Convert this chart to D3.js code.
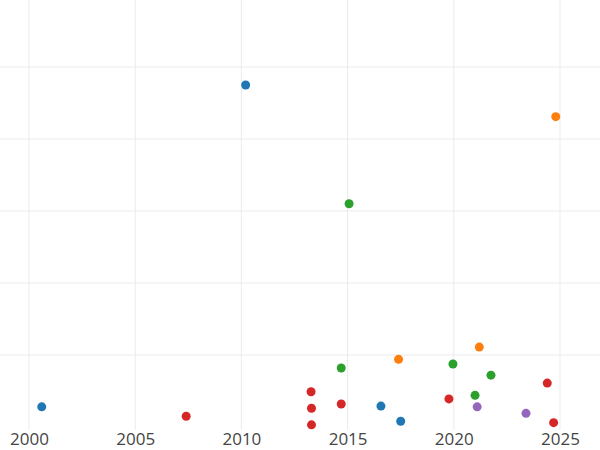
<!DOCTYPE html><html><head><script src="https://cdn.jsdelivr.net/npm/d3@7"></script>
<style>body{margin:0}</style></head><body><svg width="600" height="450"></svg><script>
const series=["a","b","c","d","e"];
const colors=["#1f77b4","#ff7f0e","#2ca02c","#d62728","#9467bd"];
const xs=[2000.6,2010.2,2016.57,2017.5, 2024.8,2017.4,2021.2, 2015.07,2014.7,2019.96,2021.75,2021.0, 2007.4,2013.28,2013.3,2013.3,2014.7,2019.77,2024.4,2024.7, 2021.1,2023.4];
const ys=[0.28,4.75,0.29,0.08, 4.31,0.94,1.11, 3.10,0.82,0.875,0.72,0.44, 0.15,0.49,0.26,0.03,0.32,0.39,0.61,0.06, 0.28,0.19];
const grp=["a","a","a","a","b","b","b","c","c","c","c","c","d","d","d","d","d","d","d","d","e","e"];
const xTicks=[2000,2005,2010,2015,2020,2025];
const yTicks=[1,2,3,4,5];
const svg=d3.select("svg");
const x=d3.scaleLinear().domain([2000,2025]).range([29,560]);
const y=d3.scaleLinear().domain([0,5]).range([427,67]);
const c=d3.scaleOrdinal().domain(series).range(colors);
svg.append("g").selectAll("line").data(xTicks).join("line").attr("x1",d=>x(d)).attr("x2",d=>x(d)).attr("y1",0).attr("y2",430).attr("stroke","#ebebeb");
svg.append("g").selectAll("line").data(yTicks).join("line").attr("x1",0).attr("x2",600).attr("y1",d=>y(d)).attr("y2",d=>y(d)).attr("stroke","#ebebeb");
const ax=svg.append("g").attr("transform","translate(0,430)").call(d3.axisBottom(x).tickValues(xTicks).tickFormat(d3.format("d")).tickSize(0).tickPadding(3));
ax.select(".domain").remove();
ax.selectAll("text").attr("font-family","Open Sans, sans-serif").attr("font-size",17).attr("fill","#444");
svg.append("g").selectAll("circle").data(xs.map((v,i)=>({x:v,y:ys[i],g:grp[i]}))).join("circle")
.attr("cx",d=>x(d.x)).attr("cy",d=>y(d.y)).attr("r",4.5).attr("fill",d=>c(d.g));
</script></body></html>
